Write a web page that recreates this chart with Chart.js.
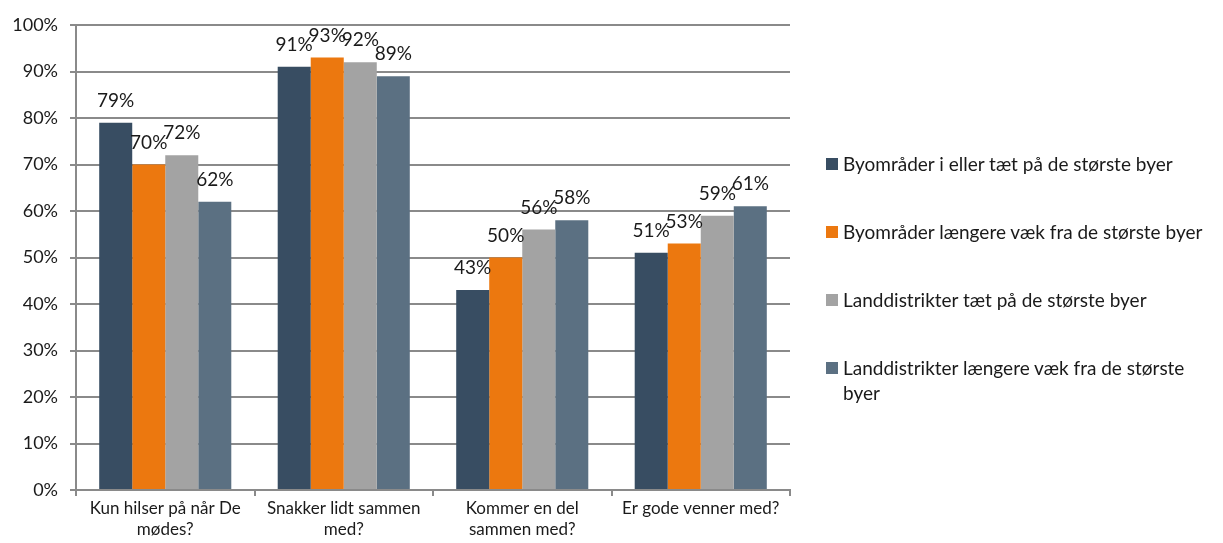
<!DOCTYPE html>
<html>
<head>
<meta charset="utf-8">
<script src="https://cdn.jsdelivr.net/npm/chart.js@4/dist/chart.umd.min.js"></script>
<style>
  html, body { margin: 0; padding: 0; background: #fff; }
  #wrap { position: relative; width: 1223px; height: 543px; }
  #legend { position: absolute; left: 826px; top: 151px; font-family: Lato, "Noto Sans", sans-serif; font-size: 19px; color: #1a1a1a; }
  .item { display: flex; align-items: flex-start; line-height: 25px; margin-bottom: 43px; }
  .sw { width: 12px; height: 12px; margin-top: 7px; margin-right: 5px; flex: none; }
  .txt { width: 378px; }
</style>
</head>
<body>
<div id="wrap">
  <canvas id="c" width="1223" height="543"></canvas>
  <div id="legend"></div>
</div>
<script>
const categories = [
  ["Kun hilser på når De", "mødes?"],
  ["Snakker lidt sammen", "med?"],
  ["Kommer en del", "sammen med?"],
  "Er gode venner med?"
];
const seriesNames = [
  "Byområder i eller tæt på de største byer",
  "Byområder længere væk fra de største byer",
  "Landdistrikter tæt på de største byer",
  "Landdistrikter længere væk fra de største byer"
];
const byNear = [79, 91, 43, 51];
const byFar = [70, 93, 50, 53];
const landNear = [72, 92, 56, 59];
const landFar = [62, 89, 58, 61];
const yTicks = [0, 10, 20, 30, 40, 50, 60, 70, 80, 90, 100];

const colors = ["#384D62", "#EC780F", "#A3A3A3", "#5B7082"];
const seriesValues = [byNear, byFar, landNear, landFar];
const FONT = "Lato, 'Noto Sans', sans-serif";

const dataLabels = {
  id: "dataLabels",
  afterDatasetsDraw(chart) {
    const ctx = chart.ctx;
    ctx.save();
    ctx.font = "19px " + FONT;
    ctx.fillStyle = "#1a1a1a";
    ctx.textAlign = "center";
    ctx.textBaseline = "middle";
    chart.data.datasets.forEach((ds, i) => {
      chart.getDatasetMeta(i).data.forEach((bar, j) => {
        ctx.fillText(ds.data[j] + "%", bar.x, bar.y - 22);
      });
    });
    ctx.restore();
  }
};

new Chart(document.getElementById("c"), {
  type: "bar",
  data: {
    labels: categories,
    datasets: seriesNames.map((n, i) => ({
      label: n,
      data: seriesValues[i],
      backgroundColor: colors[i],
      categoryPercentage: 0.74,
      barPercentage: 1.0
    }))
  },
  options: {
    responsive: false,
    animation: false,
    layout: { padding: { top: 25, right: 433, left: 0, bottom: 0 } },
    plugins: { legend: { display: false }, tooltip: { enabled: false } },
    scales: {
      x: {
        grid: { offset: true, drawOnChartArea: false, color: "#8a8a8a", tickLength: 6, lineWidth: 2 },
        border: { color: "#8a8a8a", width: 2 },
        ticks: { font: { family: FONT, size: 17, lineHeight: 1.25 }, color: "#1a1a1a", maxRotation: 0, padding: 2 },
        afterFit(s) { s.height = 53; }
      },
      y: {
        min: 0, max: 100,
        afterBuildTicks(s) { s.ticks = yTicks.map(v => ({ value: v })); },
        grid: { color: "#8a8a8a", tickLength: 6, lineWidth: 2 },
        border: { color: "#8a8a8a", width: 2 },
        ticks: { font: { family: FONT, size: 18 }, color: "#1a1a1a", padding: 12, callback: v => v + "%" },
        afterFit(s) { s.width = 76; }
      }
    }
  },
  plugins: [dataLabels]
});

const legend = document.getElementById("legend");
seriesNames.forEach((n, i) => {
  const d = document.createElement("div");
  d.className = "item";
  d.innerHTML = '<span class="sw" style="background:' + colors[i] + '"></span><span class="txt"></span>';
  d.querySelector(".txt").textContent = n;
  legend.appendChild(d);
});
</script>
</body>
</html>
